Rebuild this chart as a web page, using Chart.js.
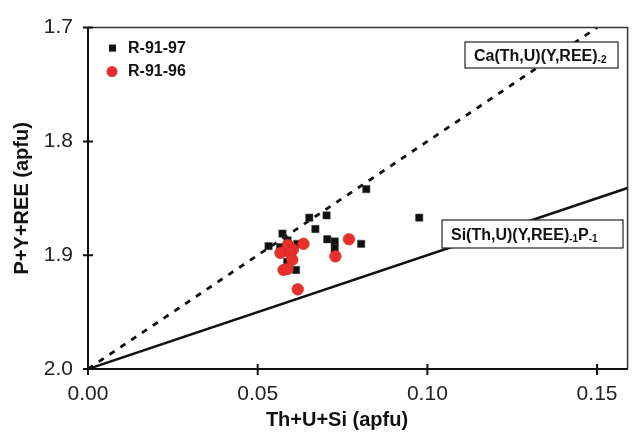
<!DOCTYPE html>
<html>
<head>
<meta charset="utf-8">
<script src="https://cdn.jsdelivr.net/npm/chart.js@4.4.1/dist/chart.umd.min.js"></script>
<style>
  html, body { margin: 0; padding: 0; background: #fff; }
  #wrap { width: 634px; height: 433px; }
</style>
</head>
<body>
<div id="wrap"><canvas id="myChart" width="634" height="433"></canvas></div>
<script>
// R-91-97 (black squares)
const r9197X = [0.0820, 0.0652, 0.0703, 0.0670, 0.0976, 0.0573, 0.0532, 0.0566, 0.0588, 0.0617, 0.0705, 0.0727, 0.0727, 0.0805, 0.0587, 0.0613];
const r9197Y = [1.842, 1.867, 1.865, 1.877, 1.867, 1.881, 1.892, 1.893, 1.887, 1.890, 1.886, 1.888, 1.894, 1.890, 1.906, 1.913];
// R-91-96 (red circles)
const r9196X = [0.0589, 0.0604, 0.0635, 0.0567, 0.0596, 0.0602, 0.0576, 0.0588, 0.0618, 0.0729, 0.0769];
const r9196Y = [1.891, 1.895, 1.890, 1.898, 1.898, 1.904, 1.913, 1.912, 1.930, 1.901, 1.886];
// substitution vectors
const caLineX = [0, 0.15];
const caLineY = [2.0, 1.7];
const siLineX = [0, 0.159];
const siLineY = [2.0, 1.841];
const xTicks = [0, 0.05, 0.10, 0.15];
const yTicks = [1.7, 1.8, 1.9, 2.0];

const FONT = "'Liberation Sans', Arial, sans-serif";
const pts = (xs, ys) => xs.map((x, i) => ({ x: x, y: ys[i] }));

// frame, crossing ticks, legend, labels
const extras = {
  id: 'extras',
  afterDatasetsDraw(chart) {
    const ctx = chart.ctx;
    const a = chart.chartArea;
    const xs = chart.scales.x, ys = chart.scales.y;
    ctx.save();
    // top / right frame
    ctx.strokeStyle = '#333';
    ctx.lineWidth = 1.5;
    ctx.beginPath();
    ctx.moveTo(a.left, a.top);
    ctx.lineTo(a.right, a.top);
    ctx.lineTo(a.right, a.bottom);
    ctx.stroke();
    // ticks
    ctx.strokeStyle = '#111';
    ctx.lineWidth = 2;
    ctx.beginPath();
    xTicks.forEach(v => {
      const px = xs.getPixelForValue(v);
      ctx.moveTo(px, a.bottom - 5);
      ctx.lineTo(px, a.bottom + 6);
    });
    yTicks.forEach(v => {
      const py = ys.getPixelForValue(v);
      ctx.moveTo(a.left - 5, py);
      ctx.lineTo(a.left + 5, py);
    });
    ctx.stroke();

    // legend
    ctx.fillStyle = '#111';
    ctx.fillRect(a.left + 21, a.top + 17, 7, 7);
    ctx.fillStyle = '#e8302a';
    ctx.beginPath();
    ctx.arc(a.left + 24, a.top + 44, 5.5, 0, Math.PI * 2);
    ctx.fill();
    ctx.fillStyle = '#111';
    ctx.font = 'bold 16px ' + FONT;
    ctx.textBaseline = 'middle';
    ctx.textAlign = 'left';
    ctx.fillText('R-91-97', a.left + 40, a.top + 21);
    ctx.fillText('R-91-96', a.left + 40, a.top + 44);

    // label boxes
    const box = (x, y, w, h, parts) => {
      ctx.fillStyle = '#fff';
      ctx.fillRect(x, y, w, h);
      ctx.strokeStyle = '#222';
      ctx.lineWidth = 1.2;
      ctx.strokeRect(x, y, w, h);
      let cx = x + 9;
      const base = y + h / 2 + 6;
      parts.forEach(p => {
        ctx.font = (p.sub ? 'bold 10px ' : 'bold 16px ') + FONT;
        ctx.textBaseline = 'alphabetic';
        ctx.fillStyle = '#111';
        ctx.fillText(p.t, cx, base + (p.sub ? 2 : 0));
        cx += ctx.measureText(p.t).width;
      });
    };
    box(465, 42, 153, 26, [{ t: 'Ca(Th,U)(Y,REE)' }, { t: '-2', sub: true }]);
    box(442, 220, 181, 28, [{ t: 'Si(Th,U)(Y,REE)' }, { t: '-1', sub: true }, { t: 'P' }, { t: '-1', sub: true }]);

    // x axis title
    ctx.font = 'bold 20px ' + FONT;
    ctx.textAlign = 'center';
    ctx.textBaseline = 'middle';
    ctx.fillStyle = '#111';
    ctx.fillText('Th+U+Si (apfu)', 337, 420);
    ctx.restore();
  }
};

const canvas = document.getElementById('myChart');
const ctx = canvas.getContext('2d');

const myChart = new Chart(ctx, {
  type: 'scatter',
  data: {
    datasets: [
      {
        label: 'R-91-96',
        data: pts(r9196X, r9196Y),
        pointStyle: 'circle',
        pointRadius: 5.8,
        backgroundColor: '#e8302a',
        borderColor: '#c82620',
        borderWidth: 0.6
      },
      {
        label: 'R-91-97',
        data: pts(r9197X, r9197Y),
        pointStyle: 'rect',
        pointRadius: 5.2,
        backgroundColor: '#111',
        borderColor: '#444',
        borderWidth: 0.5
      },
      {
        type: 'line',
        label: 'Ca(Th,U)(Y,REE)-2',
        data: pts(caLineX, caLineY),
        borderColor: '#111',
        borderWidth: 2.8,
        borderDash: [6, 7],
        pointRadius: 0,
        fill: false
      },
      {
        type: 'line',
        label: 'Si(Th,U)(Y,REE)-1P-1',
        data: pts(siLineX, siLineY),
        borderColor: '#111',
        borderWidth: 2.5,
        pointRadius: 0,
        fill: false
      }
    ]
  },
  options: {
    responsive: false,
    animation: false,
    layout: { padding: { left: 0, right: 3, top: 20, bottom: 0 } },
    plugins: {
      legend: { display: false },
      tooltip: { enabled: false }
    },
    scales: {
      x: {
        type: 'linear',
        min: 0,
        max: 0.159,
        afterFit: s => { s.height = 64; },
        grid: { display: false, drawTicks: false },
        border: { color: '#111', width: 2 },
        ticks: {
          stepSize: 0.05,
          includeBounds: false,
          padding: 13,
          color: '#222',
          font: { family: FONT, size: 21 },
          maxRotation: 0,
          callback: v => Number(v).toFixed(2)
        }
      },
      y: {
        type: 'linear',
        min: 1.7,
        max: 2.0,
        reverse: true,
        afterFit: s => { s.width = 88; },
        grid: { display: false, drawTicks: false },
        border: { color: '#111', width: 2 },
        title: {
          display: true,
          text: 'P+Y+REE (apfu)',
          color: '#111',
          font: { family: FONT, size: 20, weight: 'bold' },
          padding: { top: 10, bottom: 0 }
        },
        ticks: {
          stepSize: 0.1,
          padding: 15,
          color: '#222',
          font: { family: FONT, size: 21 },
          callback: v => Number(v).toFixed(1)
        }
      }
    }
  },
  plugins: [extras]
});
</script>
</body>
</html>
